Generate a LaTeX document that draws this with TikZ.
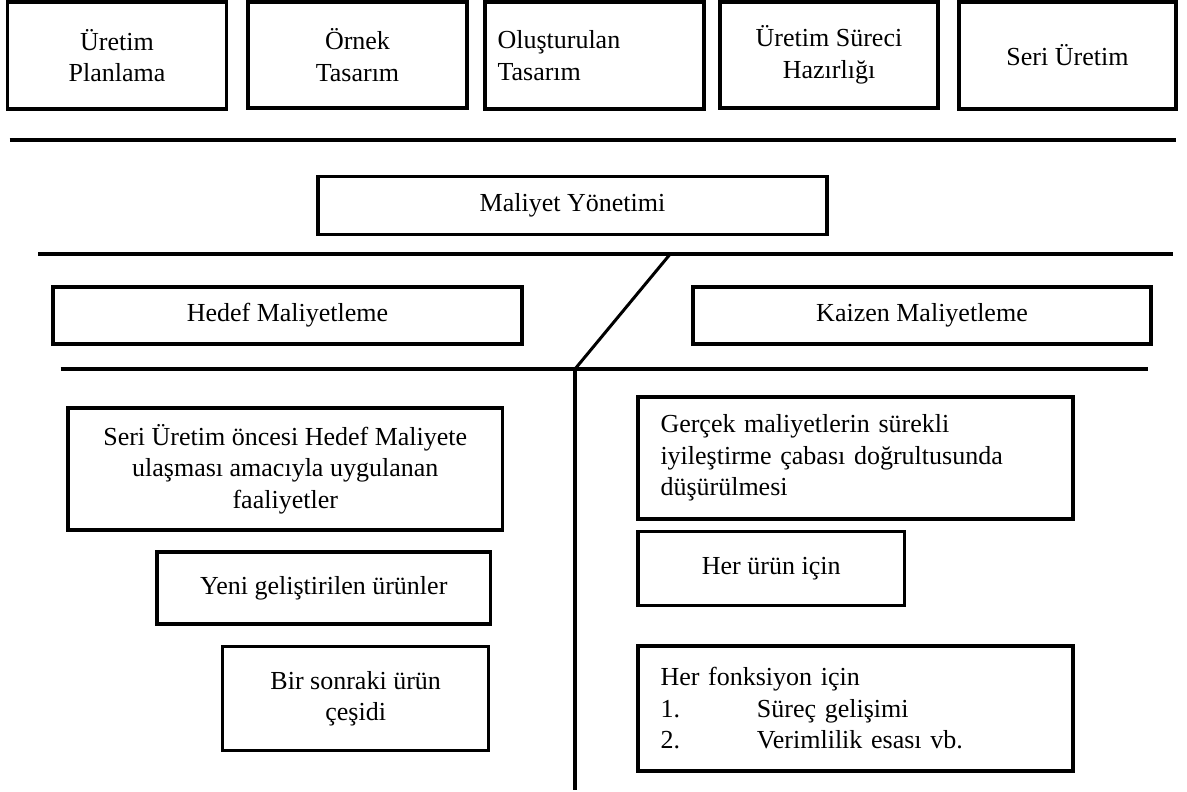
\documentclass[tikz,border=0pt]{standalone}
\usepackage{fontspec}
\setmainfont{Liberation Serif}
\begin{document}
\begin{tikzpicture}[x=1pt,y=-1pt,
  box/.style={draw, line width=3.5pt, inner sep=0pt, align=center,
              font=\fontsize{26pt}{31.5pt}\selectfont},
  lbox/.style={box, align=left},
  rule/.style={line width=4pt},
  stem/.style={line width=3.5pt},
  slant/.style={line width=3pt}]
\useasboundingbox[fill=white] (0,0) rectangle (1187,792);

% stages of the product life
\node[box, minimum width=219pt, minimum height=107pt] (plan) at (117,55.5) {Üretim\\Planlama};
\node[box, minimum width=219pt, minimum height=106pt] (ornek) at (357.5,55) {Örnek\\Tasarım};
\node[lbox, text width=194pt, minimum width=219pt, minimum height=107pt] (olus) at (594.5,55.5) {Oluşturulan\\Tasarım};
\node[box, minimum width=218pt, minimum height=106pt] (surec) at (829,55) {Üretim Süreci\\Hazırlığı};
\node[box, minimum width=217pt, minimum height=107pt] (seri) at (1067.5,55.5) {Seri Üretim};

% separator rules
\coordinate (r1a) at (9.6,140);  \coordinate (r1b) at (1176,140);
\coordinate (r2a) at (38,254.3); \coordinate (r2b) at (1173,254.3);
\coordinate (r3a) at (60.6,369); \coordinate (r3b) at (1148,369);
\draw[rule] (r1a) -- (r1b);
\draw[rule] (r2a) -- (r2b);
\draw[rule] (r3a) -- (r3b);

\node[box, minimum width=509pt, minimum height=57.6pt] (my) at (572.5,205.5) {Maliyet Yönetimi};

\node[box, minimum width=469pt, minimum height=57pt] (hedef) at (287.5,315.5) {Hedef Maliyetleme};
\node[box, minimum width=458pt, minimum height=57pt] (kaizen) at (922,315.5) {Kaizen Maliyetleme};

% split between the two approaches
\coordinate (sTop) at (670,254.3);
\coordinate (sMid) at (575,369);
\coordinate (sEnd) at (575,790);
\draw[slant] (sTop) -- (sMid);
\draw[stem] (sMid) -- (sEnd);

% target costing column
\node[box, minimum width=434.5pt, minimum height=122pt] (hm1) at (285.25,469)
  {Seri Üretim öncesi Hedef Maliyete\\ulaşması amacıyla uygulanan\\faaliyetler};
\node[box, minimum width=333.6pt, minimum height=72.3pt] (hm2) at (323.8,587.9) {Yeni geliştirilen ürünler};
\node[box, minimum width=266pt, minimum height=104pt] (hm3) at (355.7,698.7) {Bir sonraki ürün\\çeşidi};

% kaizen costing column
\node[lbox, text width=390pt, minimum width=435pt, minimum height=122.3pt] (km1) at (855.5,457.9)
  {Gerçek maliyetlerin sürekli\\iyileştirme çabası doğrultusunda\\düşürülmesi};
\node[box, minimum width=266.4pt, minimum height=74pt] (km2) at (771.2,568.7) {Her ürün için};
\node[lbox, text width=390pt, minimum width=435pt, minimum height=125.3pt] (km3) at (855.5,708.4)
  {Her fonksiyon için\\\makebox[96.5pt][l]{1.}Süreç gelişimi\\\makebox[96.5pt][l]{2.}Verimlilik esası vb.};
\end{tikzpicture}
\end{document}
